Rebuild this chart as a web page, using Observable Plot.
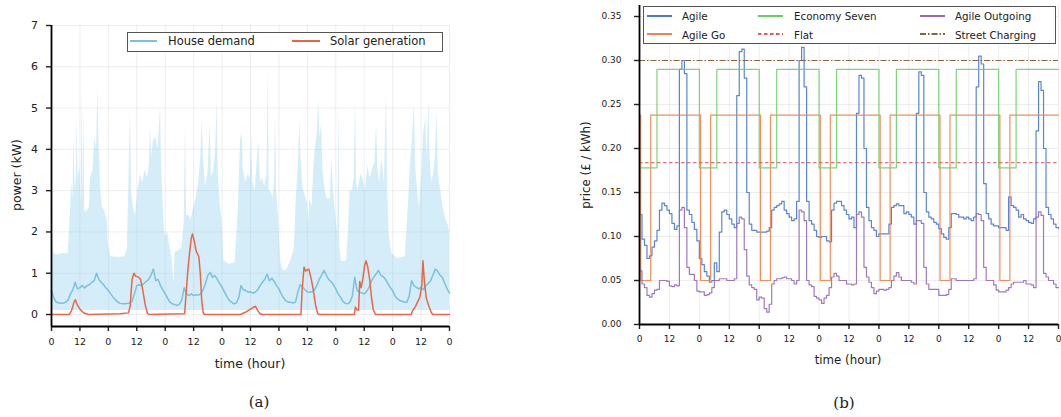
<!DOCTYPE html>
<html><head><meta charset="utf-8">
<script src="https://cdn.jsdelivr.net/npm/d3@7"></script>
<script src="https://cdn.jsdelivr.net/npm/@observablehq/plot@0.6"></script>
<style>
body{margin:0;background:#fff;}
#wrap{position:relative;width:1061px;height:417px;overflow:hidden;font-family:"DejaVu Sans",sans-serif;color:#222}
.panel{position:absolute;top:0}
.t{position:absolute;white-space:nowrap;line-height:1}
</style></head><body><div id="wrap"><div id="pa" class="panel" style="left:0px"></div><div id="pb" class="panel" style="left:580px"></div></div>
<script>
// ---------- shared ticks ----------
const tickHours = [0,12,24,36,48,60,72,84,96,108,120,132,144,156,168];
const tickLabels = ["0","12","0","12","0","12","0","12","0","12","0","12","0","12","0"];
const powerTicks = [0,1,2,3,4,5,6,7];
const powerDomain = [-0.29, 7];
const priceTicks = [0,0.05,0.10,0.15,0.20,0.25,0.30,0.35];
const priceTickLabels = ["0.00","0.05","0.10","0.15","0.20","0.25","0.30","0.35"];
const priceDomain = [0, 0.3625];

// ---------- panel (a): house demand (hourly mean, kW, hour 0..168) ----------
const houseKW = [
 0.58,0.4,0.3,0.28,0.28,0.27,0.3,0.35,0.5,0.6,0.78,0.62,0.65,0.7,0.64,0.7,0.72,0.78,0.82,1.0,0.85,0.78,0.72,0.64,
 0.58,0.5,0.42,0.36,0.3,0.27,0.26,0.26,0.27,0.28,0.32,0.5,0.7,0.72,0.7,0.75,0.8,0.85,0.95,1.1,0.82,0.85,0.7,0.6,
 0.5,0.4,0.3,0.26,0.24,0.22,0.25,0.35,0.65,0.5,0.46,0.5,0.46,0.48,0.47,0.5,0.6,0.75,0.95,1.02,0.9,0.94,0.85,0.75,
 0.66,0.55,0.44,0.34,0.3,0.26,0.28,0.4,0.7,0.6,0.58,0.54,0.55,0.52,0.54,0.6,0.7,0.78,0.85,0.98,0.82,0.88,0.8,0.7,
 0.62,0.5,0.4,0.33,0.3,0.3,0.28,0.3,0.55,0.72,0.66,0.6,0.55,0.54,0.55,0.6,0.7,0.85,0.95,1.07,0.95,0.85,0.8,0.72,
 0.62,0.5,0.42,0.32,0.27,0.26,0.3,0.45,0.9,0.58,0.55,0.52,0.5,0.56,0.65,0.8,0.9,0.98,1.07,0.95,0.92,0.85,0.75,0.65,
 0.58,0.45,0.38,0.34,0.32,0.3,0.3,0.45,0.82,0.7,0.66,0.62,0.66,0.6,0.7,0.75,0.82,0.95,1.1,1.05,0.95,0.9,0.75,0.62,
 0.52];

// house demand range: upper envelope [hour, kW] and floor (kW)
const bandUpper = [
 [0,1.5],[0.15,4.9],[0.5,1.8],[1,1.47],[3,1.45],[5,1.48],[7,1.47],[7.5,2.0],[8,2.5],[8.5,3.2],[9,2.8],[9.5,4.3],[10,3.0],
 [10.5,3.4],[10.8,4.85],[11.2,3.3],[12,3.6],[12.5,2.6],[12.9,5.54],[13.2,2.8],[13.6,5.0],[14,2.5],[15,2.5],[16,2.6],
 [16.5,3.3],[17.5,3.5],[18.3,4.3],[19,4.0],[19.6,5.5],[20,4.2],[20.8,3.0],[21.5,2.6],[22.5,2.5],[23.5,2.3],[24,1.7],
 [25,1.4],[28,1.38],[31,1.4],[32,1.6],[32.6,3.0],[33.3,4.95],[33.8,3.0],[34.5,2.6],[35.5,2.4],[36.5,3.0],[37.5,3.4],
 [38.5,3.2],[39.5,3.5],[40.5,3.3],[41.3,3.6],[41.8,4.6],[42.3,3.8],[43,4.2],[44,4.3],[45,4.0],[46,5.0],[46.4,3.8],
 [47,2.8],[47.5,2.2],[48,1.9],[49,2.0],[50,1.65],[51,1.3],[51.6,0.75],[52.2,1.5],[53.5,1.55],[55,1.6],[56,2.2],[56.6,4.6],
 [57,2.4],[58,2.4],[59,2.3],[60,2.6],[61,2.8],[62.2,3.2],[63,3.8],[63.6,4.7],[64.2,3.8],[65,3.1],[66,3.4],[67,4.6],
 [67.5,3.3],[68.5,3.5],[69.3,4.0],[69.9,5.2],[70.4,3.4],[71.3,2.6],[72,2.3],[72.7,1.3],[75,1.22],[77.5,1.25],[78.8,2.5],
 [79.8,4.2],[80.5,4.4],[81,3.5],[82,3.2],[83,3.4],[84,3.3],[84.5,4.3],[85,3.2],[86,3.0],[86.8,3.7],[87.5,4.2],[88.2,3.2],
 [89,3.3],[90,3.1],[91,3.4],[91.5,6.0],[91.9,3.0],[92.5,3.0],[93.5,2.8],[94.1,3.2],[94.6,4.8],[95,3.0],[95.8,2.4],
 [96.7,1.3],[97.5,1.1],[98.5,1.05],[99.5,1.1],[101,1.3],[102.5,1.6],[103.3,2.8],[104.2,3.6],[104.8,4.7],[105.3,3.8],[106,3.1],
 [107,2.9],[108,2.7],[108.5,2.2],[109,2.8],[110,2.6],[110.7,3.5],[111.3,4.0],[112.2,4.4],[112.8,5.2],[113.3,4.3],
 [114,4.6],[114.6,3.5],[115.5,3.0],[116.5,2.8],[117.7,2.8],[118.3,3.8],[119,3.0],[120,2.4],[120.8,1.9],[121.3,5.15],
 [121.7,1.6],[122.5,1.28],[124.6,1.3],[125.3,2.0],[126,3.0],[127,3.0],[127.8,3.3],[128.3,5.15],[128.8,3.2],[129.5,3.0],
 [130.5,3.4],[131.5,3.3],[132.5,3.0],[133.5,3.6],[134.5,3.3],[135.5,3.5],[136.5,3.7],[137.2,4.6],[137.8,3.5],[138.5,3.2],
 [139.5,3.8],[140.5,3.2],[141.4,5.3],[141.9,3.0],[142.5,2.0],[143.5,1.5],[146,1.35],[149.3,1.4],[150.5,2.5],[151.5,3.6],
 [152.3,4.2],[153.2,5.1],[153.7,3.6],[154.5,3.0],[155.3,2.6],[156.3,3.4],[157,4.3],[157.9,4.78],[158.5,3.8],[159.3,5.2],
 [159.8,3.8],[160.5,3.2],[161.3,3.4],[162,3.8],[162.8,4.9],[163.3,3.4],[164.3,3.0],[165.3,2.6],[166.5,2.3],[167.3,2.2],
 [168,2.0]];
const bandFloorKW = 0.1;

// solar generation (breakpoints)
const solarHours = [0,7.5,8.5,9.5,10.1,11,12,13,14,15.5,
 29,32.5,33.2,34,34.8,35.5,36.9,37.6,38.5,39.5,40.5,41.1,
 56.2,56.8,57.6,58.3,59,59.5,60.2,61,61.5,62.2,62.8,63.4,64,64.5,
 79.8,82,84.5,86.1,87,88,89,
 105.3,105.8,106.6,107.3,108,108.6,109.5,110.5,111.4,112.3,112.8,
 127.8,128.3,128.8,129.6,130.1,130.7,131.4,132.2,132.8,133.5,134.3,135,135.8,136.8,
 151.8,152.5,153.5,154.5,155.5,156.3,156.8,157.4,158.2,159.3,160.3,161,168];
const solarKW = [0,0,0.1,0.3,0.36,0.22,0.13,0.07,0.03,0,
 0.02,0.04,0.2,0.85,1.0,0.93,0.9,0.85,0.6,0.25,0.03,0,
 0.02,0.5,1.1,1.5,1.85,1.95,1.8,1.55,1.48,1.4,1.0,0.35,0.05,0,
 0,0.06,0.15,0.2,0.1,0.02,0,
 0,0.6,1.15,1.05,1.08,1.1,0.9,0.6,0.25,0.03,0,
 0,0.18,0.12,0.1,0.8,0.65,0.85,1.2,1.3,1.15,0.85,0.45,0.12,0,
 0,0.1,0.18,0.3,0.42,0.7,1.3,0.8,0.4,0.2,0.05,0,0];

// ---------- panel (b): tariffs (£/kWh) ----------
const agilePrice = [
 0.125,0.097,0.09,0.075,0.078,0.088,0.095,0.107,0.13,0.138,0.135,0.13,0.126,0.115,0.108,0.112,0.29,0.30,0.285,0.13,0.125,0.116,0.108,0.095,
 0.075,0.068,0.06,0.055,0.048,0.05,0.07,0.06,0.105,0.128,0.13,0.125,0.12,0.114,0.11,0.26,0.31,0.313,0.28,0.15,0.114,0.107,0.107,0.105,
 0.105,0.105,0.105,0.106,0.11,0.13,0.133,0.135,0.137,0.14,0.13,0.126,0.122,0.118,0.12,0.14,0.3,0.315,0.27,0.14,0.118,0.114,0.107,0.1,
 0.099,0.1,0.1,0.095,0.094,0.13,0.138,0.14,0.14,0.135,0.13,0.125,0.12,0.122,0.11,0.24,0.283,0.28,0.2,0.133,0.118,0.11,0.107,0.1,
 0.103,0.103,0.103,0.103,0.114,0.133,0.135,0.137,0.135,0.135,0.126,0.128,0.125,0.122,0.114,0.24,0.287,0.283,0.15,0.128,0.122,0.12,0.116,0.114,
 0.109,0.103,0.099,0.097,0.11,0.126,0.126,0.125,0.122,0.122,0.12,0.122,0.12,0.118,0.122,0.27,0.305,0.296,0.16,0.126,0.12,0.114,0.112,0.112,
 0.11,0.11,0.11,0.107,0.145,0.135,0.133,0.13,0.122,0.125,0.12,0.118,0.116,0.115,0.12,0.22,0.276,0.266,0.2,0.133,0.125,0.12,0.114,0.11,
 0.109];
const outgoingPrice = [
 0.061,0.046,0.042,0.033,0.031,0.035,0.039,0.04,0.05,0.05,0.05,0.049,0.044,0.043,0.045,0.044,0.13,0.133,0.11,0.065,0.057,0.057,0.05,0.038,
 0.037,0.037,0.033,0.034,0.036,0.042,0.05,0.05,0.052,0.052,0.052,0.05,0.05,0.05,0.052,0.115,0.122,0.12,0.085,0.055,0.045,0.042,0.04,0.028,
 0.031,0.03,0.018,0.014,0.023,0.046,0.05,0.052,0.052,0.053,0.054,0.052,0.052,0.05,0.046,0.05,0.13,0.128,0.118,0.05,0.045,0.043,0.032,0.03,
 0.028,0.024,0.03,0.033,0.042,0.054,0.058,0.055,0.05,0.05,0.05,0.046,0.046,0.045,0.046,0.125,0.128,0.122,0.065,0.054,0.048,0.042,0.035,0.038,
 0.04,0.04,0.039,0.04,0.042,0.05,0.055,0.059,0.054,0.05,0.05,0.05,0.05,0.048,0.046,0.118,0.118,0.115,0.065,0.046,0.04,0.04,0.04,0.04,
 0.033,0.033,0.033,0.034,0.04,0.052,0.052,0.05,0.05,0.05,0.05,0.05,0.05,0.05,0.052,0.126,0.125,0.118,0.065,0.05,0.05,0.05,0.045,0.039,
 0.037,0.037,0.037,0.039,0.042,0.046,0.048,0.048,0.048,0.048,0.05,0.046,0.046,0.045,0.042,0.122,0.128,0.124,0.058,0.054,0.05,0.05,0.046,0.042,
 0.042];
const goHours = [0,0.5,4.5,24.5,28.5,48.5,52.5,72.5,76.5,96.5,100.5,120.5,124.5,144.5,148.5,168];
const goPrice = [0.238,0.05,0.238,0.05,0.238,0.05,0.238,0.05,0.238,0.05,0.238,0.05,0.238,0.05,0.238,0.238];
const e7Hours = [0,7,24,31,48,55,72,79,96,103,120,127,144,151,168];
const e7Price = [0.178,0.29,0.178,0.29,0.178,0.29,0.178,0.29,0.178,0.29,0.178,0.29,0.178,0.29,0.29];
const flatPrice = 0.184;
const streetPrice = 0.30;

// ---------- build tables ----------
const house = houseKW.map((v,i)=>({h:i, v}));
const band = bandUpper.map(([h,hi])=>({h, lo:bandFloorKW, hi}));
const solar = solarHours.map((h,i)=>({h, v:solarKW[i]}));
const agile = agilePrice.map((v,i)=>({h:i, v}));
const outgoing = outgoingPrice.map((v,i)=>({h:i, v}));
const go = goHours.map((h,i)=>({h, v:goPrice[i]}));
const e7 = e7Hours.map((h,i)=>({h, v:e7Price[i]}));
const hourLabel = new Map(tickHours.map((h,i)=>[h, tickLabels[i]]));
const priceLabel = new Map(priceTicks.map((p,i)=>[p, priceTickLabels[i]]));

const C = {house:"#7cc0de", band:"#87ceeb", solar:"#e8674a",
  agile:"#4878d0", go:"#ee854a", e7:"#6acc64", flat:"#d65f5f", out:"#956cb4", street:"#8c613c"};
const gridStyle = {stroke:"#000", strokeOpacity:0.07, strokeWidth:1};
const font = '"DejaVu Sans", sans-serif';

const plotA = Plot.plot({
  width:460, height:390, marginLeft:51, marginRight:11, marginTop:25, marginBottom:64,
  x:{domain:[0,168]}, y:{domain:powerDomain},
  style:{fontFamily:font, fontSize:"9.5px", color:"#222", background:"transparent", overflow:"visible"},
  marks:[
    Plot.gridX({ticks:tickHours, ...gridStyle}),
    Plot.gridY({ticks:powerTicks, ...gridStyle}),
    Plot.areaY(band, {x:"h", y1:"lo", y2:"hi", fill:C.band, fillOpacity:0.36}),
    Plot.lineY(house, {x:"h", y:"v", stroke:C.house, strokeWidth:1.5}),
    Plot.line(solar, {x:"h", y:"v", stroke:C.solar, strokeWidth:1.5}),
    Plot.axisX({ticks:tickHours, tickFormat:d=>hourLabel.get(d), tickSize:5, tickPadding:7, label:null, strokeWidth:1.4}),
    Plot.axisY({ticks:powerTicks, tickSize:5, tickPadding:8.5, label:null, strokeWidth:1.4, fontSize:"11px"}),
    Plot.ruleX([0], {stroke:"#000", strokeWidth:1.8}),
    Plot.ruleY([powerDomain[0]], {stroke:"#000", strokeWidth:1.8})
  ]
});
document.getElementById("pa").appendChild(plotA);

const plotB = Plot.plot({
  width:481, height:390, marginLeft:59, marginRight:3, marginTop:5, marginBottom:66,
  x:{domain:[0,168]}, y:{domain:priceDomain},
  style:{fontFamily:font, fontSize:"9px", color:"#222", background:"transparent", overflow:"visible"},
  marks:[
    Plot.gridX({ticks:tickHours, ...gridStyle}),
    Plot.gridY({ticks:priceTicks, ...gridStyle}),
    Plot.line(agile, {x:"h", y:"v", curve:"step-after", stroke:C.agile, strokeWidth:1.2, strokeOpacity:0.9}),
    Plot.line(go, {x:"h", y:"v", curve:"step-after", stroke:C.go, strokeWidth:1.2, strokeOpacity:0.9}),
    Plot.line(e7, {x:"h", y:"v", curve:"step-after", stroke:C.e7, strokeWidth:1.2, strokeOpacity:0.85}),
    Plot.ruleY([flatPrice], {stroke:C.flat, strokeWidth:1.1, strokeDasharray:"3.5,2.5", strokeOpacity:0.85}),
    Plot.line(outgoing, {x:"h", y:"v", curve:"step-after", stroke:C.out, strokeWidth:1.2, strokeOpacity:0.9}),
    Plot.ruleY([streetPrice], {stroke:C.street, strokeWidth:1.1, strokeDasharray:"6,2,1.5,2"}),
    Plot.axisX({ticks:tickHours, tickFormat:d=>hourLabel.get(d), tickSize:5, tickPadding:6, label:null, strokeWidth:1.4}),
    Plot.axisY({ticks:priceTicks, tickFormat:d=>priceLabel.get(d), tickSize:5, tickPadding:13, label:null, strokeWidth:1.4}),
    Plot.ruleX([0], {stroke:"#000", strokeWidth:1.8}),
    Plot.ruleY([priceDomain[0]], {stroke:"#000", strokeWidth:1.8})
  ]
});
document.getElementById("pb").appendChild(plotB);

// ---------- text & legends ----------
const wrap = document.getElementById("wrap");
function text(str, x, y, size, opts={}) {
  const d = document.createElement("div");
  d.className = "t";
  d.textContent = str;
  d.style.left = x+"px"; d.style.top = y+"px";
  d.style.fontSize = size+"px";
  if (opts.family) d.style.fontFamily = opts.family;
  const ax = opts.anchor === "start" ? "0" : "-50%";
  d.style.transform = `translate(${ax},-50%)` + (opts.rotate ? " rotate(-90deg)" : "");
  wrap.appendChild(d);
  return d;
}
text("time (hour)", 250, 364, 12.5);
text("power (kW)", 17, 175, 12.5, {rotate:true});
text("time (hour)", 848, 361, 11.8);
text("price (£ / kWh)", 587, 164.5, 11.8, {rotate:true});
text("(a)", 259, 402, 15, {family:'"DejaVu Serif", serif'});
text("(b)", 844, 403, 15, {family:'"DejaVu Serif", serif'});

function box(x, y, w, h) {
  const d = document.createElement("div");
  d.style.cssText = `position:absolute;left:${x}px;top:${y}px;width:${w}px;height:${h}px;border:1px solid #555;background:#fff;box-sizing:border-box;`;
  wrap.appendChild(d);
}
function swatch(x, y, len, color, dash) {
  const ns = "http://www.w3.org/2000/svg";
  const s = document.createElementNS(ns, "svg");
  s.setAttribute("width", len); s.setAttribute("height", 6);
  s.style.cssText = `position:absolute;left:${x}px;top:${y-3}px;`;
  const l = document.createElementNS(ns, "line");
  l.setAttribute("x1", 0); l.setAttribute("x2", len); l.setAttribute("y1", 3); l.setAttribute("y2", 3);
  l.setAttribute("stroke", color); l.setAttribute("stroke-width", 2);
  if (dash) l.setAttribute("stroke-dasharray", dash);
  s.appendChild(l);
  wrap.appendChild(s);
}
box(127, 32, 316, 20);
swatch(130, 41, 27, C.house); text("House demand", 168, 41.5, 11.5, {anchor:"start"});
swatch(292, 41, 28, C.solar); text("Solar generation", 330, 41.5, 11.5, {anchor:"start"});

box(643, 6, 413, 38);
const legB = [
  ["Agile", C.agile, null, 647, 682, 15.7],
  ["Economy Seven", C.e7, null, 758, 794, 15.7],
  ["Agile Outgoing", C.out, null, 920, 955, 15.7],
  ["Agile Go", C.go, null, 647, 682, 34],
  ["Flat", C.flat, "3.5,2.5", 758, 794, 34],
  ["Street Charging", C.street, "6,2,1.5,2", 920, 955, 34]
];
for (const [name, col, dash, sx, tx, y] of legB) {
  swatch(sx, y, 25, col, dash);
  text(name, tx, y+0.5, 10.3, {anchor:"start"});
}
</script></body></html>
